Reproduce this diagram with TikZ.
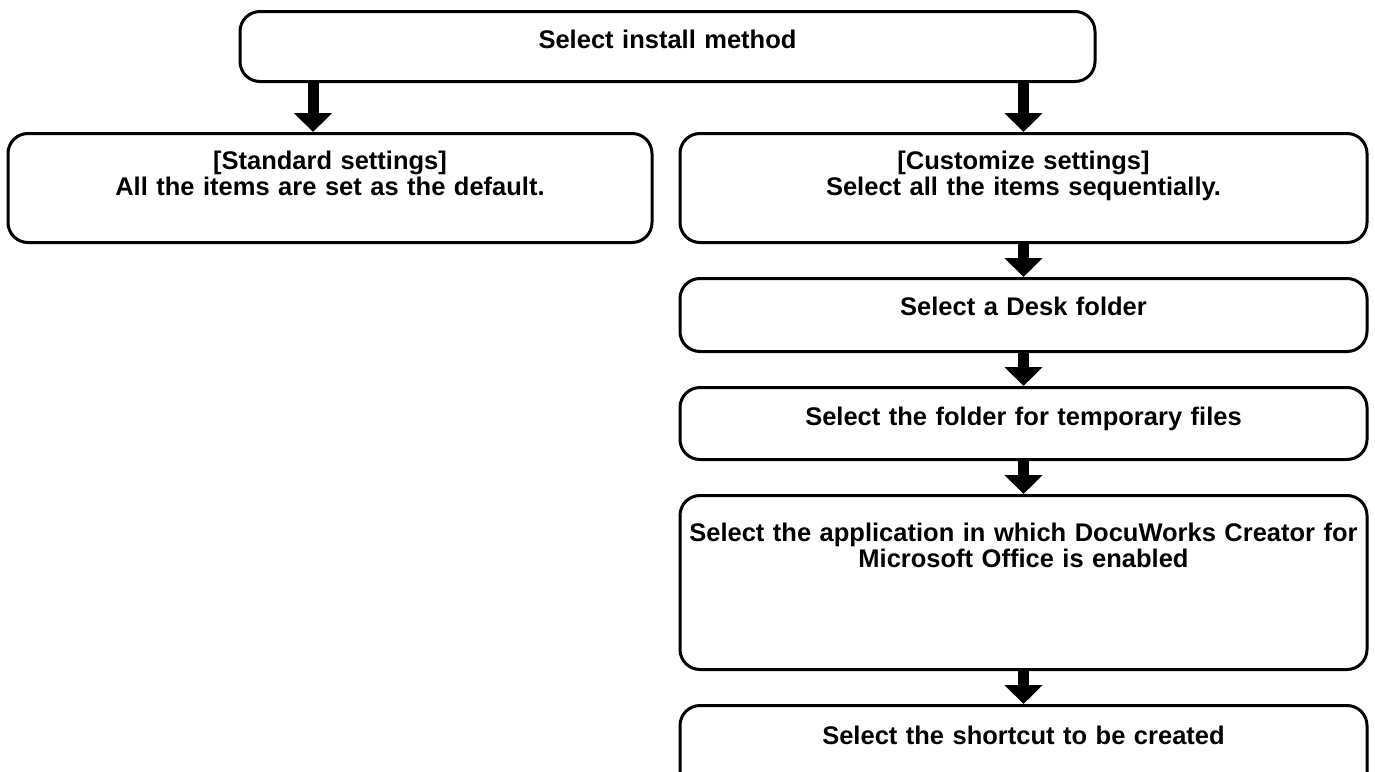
\documentclass[tikz,border=0pt]{standalone}
\usepackage{fontspec}
\setmainfont{Liberation Sans}
\usetikzlibrary{arrows.meta}
\tikzset{stepbox/.style = {draw, line width = 3pt, rounded corners = 20pt, anchor = north, inner xsep = 2pt, inner ysep = 0pt, align = center, minimum width = #1, text width = #1 - 4pt, font = \bfseries\fontsize{25.5}{25.5}\selectfont}}
\tikzset{flow/.style = {line width = 11pt, -{Triangle[width = 37pt, length = 19pt]}}}

\begin{document}
\begin{tikzpicture}[x = 1pt, y = -1pt]
	\useasboundingbox (0, 0) rectangle (1375, 771);

	\node[stepbox = 855pt, text height = 37pt, text depth = 33pt] (method) at (667.5, 10) {Select install method};
	\node[stepbox = 644pt, text height = 36pt, text depth = 73pt] (standard) at (330, 132) {[Standard settings]\\All the items are set as the default.};
	\node[stepbox = 687pt, text height = 36pt, text depth = 73pt] (custom) at (1023.5, 132) {[Customize settings]\\Select all the items sequentially.};
	\node[stepbox = 687pt, text height = 37pt, text depth = 36pt] (desk) at (1023.5, 277) {Select a Desk folder};
	\node[stepbox = 687pt, text height = 37.5pt, text depth = 34.5pt] (temp) at (1023.5, 386) {Select the folder for temporary files};
	\node[stepbox = 687pt, text height = 46pt, text depth = 128pt] (app) at (1023.5, 494) {Select the application in which DocuWorks Creator for\\Microsoft Office is enabled};
	\node[stepbox = 687pt, text height = 39pt, text depth = 60pt] (shortcut) at (1023.5, 704) {Select the shortcut to be created};

	\coordinate (stdin) at ([xshift = -17pt]standard.north);
	\draw[flow] (method.south -| stdin) to (stdin);
	\draw[flow] (method.south -| custom.north) to (custom.north);
	\draw[flow] (custom) to (desk);
	\draw[flow] (desk) to (temp);
	\draw[flow] (temp) to (app);
	\draw[flow] (app) to (shortcut);
\end{tikzpicture}
\end{document}
